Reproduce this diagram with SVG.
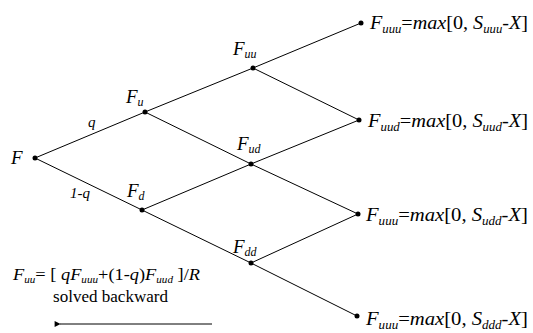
<svg xmlns="http://www.w3.org/2000/svg" width="533" height="333" viewBox="0 0 533 333">
<defs>
<marker id="ah" viewBox="0 0 10 10" refX="1" refY="5" markerWidth="8" markerHeight="6" orient="auto" markerUnits="userSpaceOnUse">
<path d="M10,0 L0,5 L10,10 z" fill="#000"/>
</marker>
</defs>
<style>
text{font-family:'Liberation Serif','Times New Roman',Tinos,'DejaVu Serif',serif;fill:#000}
.ln{stroke:#000;stroke-width:1;fill:none}
.dot{fill:#000}
.lbl{font-style:italic;font-size:19px}
.sub{font-size:12px}
.term{font-size:19px}
.it{font-style:italic}
.edge{font-style:italic;font-size:15px}
.note{font-size:16.5px}
</style>
<rect width="533" height="333" fill="#fff"/>
<g id="connectors">
<line class="ln" x1="35" y1="158" x2="145" y2="112"/>
<line class="ln" x1="35" y1="158" x2="142" y2="210"/>
<line class="ln" x1="145" y1="112" x2="253" y2="68"/>
<line class="ln" x1="145" y1="112" x2="251" y2="164"/>
<line class="ln" x1="142" y1="210" x2="251" y2="164"/>
<line class="ln" x1="142" y1="210" x2="251" y2="263"/>
<line class="ln" x1="253" y1="68" x2="361" y2="23"/>
<line class="ln" x1="253" y1="68" x2="359" y2="120"/>
<line class="ln" x1="251" y1="164" x2="359" y2="120"/>
<line class="ln" x1="251" y1="164" x2="358" y2="214"/>
<line class="ln" x1="251" y1="263" x2="358" y2="214"/>
<line class="ln" x1="251" y1="263" x2="357" y2="316"/>
<text class="edge" x="88" y="127">q</text>
<text class="edge" x="70" y="198">1-q</text>
</g>
<g id="node-F">
<circle class="dot" cx="35" cy="158" r="2.5"/>
<text class="lbl" x="11" y="164">F</text>
</g>
<g id="node-Fu">
<circle class="dot" cx="145" cy="112" r="2.5"/>
<text class="lbl" x="126" y="103">F<tspan class="sub" dy="3">u</tspan></text>
</g>
<g id="node-Fd">
<circle class="dot" cx="142" cy="210" r="2.5"/>
<text class="lbl" x="127" y="197">F<tspan class="sub" dy="3">d</tspan></text>
</g>
<g id="node-Fuu">
<circle class="dot" cx="253" cy="68" r="2.5"/>
<text class="lbl" x="233" y="55">F<tspan class="sub" dy="3">uu</tspan></text>
</g>
<g id="node-Fud">
<circle class="dot" cx="251" cy="164" r="2.5"/>
<text class="lbl" x="237" y="150">F<tspan class="sub" dy="3">ud</tspan></text>
</g>
<g id="node-Fdd">
<circle class="dot" cx="251" cy="263" r="2.5"/>
<text class="lbl" x="233" y="253">F<tspan class="sub" dy="3">dd</tspan></text>
</g>
<g id="node-Fuuu">
<circle class="dot" cx="361" cy="23" r="2.5"/>
<text class="term" x="370" y="29" textLength="158" lengthAdjust="spacingAndGlyphs"><tspan class="it">F</tspan><tspan class="it sub" dy="4">uuu</tspan><tspan dy="-4">=</tspan><tspan class="it">max</tspan>[0, <tspan class="it">S</tspan><tspan class="it sub" dy="4">uuu</tspan><tspan class="it" dy="-4">-X</tspan>]</text>
</g>
<g id="node-Fuud">
<circle class="dot" cx="359" cy="120" r="2.5"/>
<text class="term" x="368" y="127" textLength="160" lengthAdjust="spacingAndGlyphs"><tspan class="it">F</tspan><tspan class="it sub" dy="4">uud</tspan><tspan dy="-4">=</tspan><tspan class="it">max</tspan>[0, <tspan class="it">S</tspan><tspan class="it sub" dy="4">uud</tspan><tspan class="it" dy="-4">-X</tspan>]</text>
</g>
<g id="node-Fudd">
<circle class="dot" cx="358" cy="214" r="2.5"/>
<text class="term" x="366" y="221" textLength="162" lengthAdjust="spacingAndGlyphs"><tspan class="it">F</tspan><tspan class="it sub" dy="4">uuu</tspan><tspan dy="-4">=</tspan><tspan class="it">max</tspan>[0, <tspan class="it">S</tspan><tspan class="it sub" dy="4">udd</tspan><tspan class="it" dy="-4">-X</tspan>]</text>
</g>
<g id="node-Fddd">
<circle class="dot" cx="357" cy="316" r="2.5"/>
<text class="term" x="366" y="325" textLength="162" lengthAdjust="spacingAndGlyphs"><tspan class="it">F</tspan><tspan class="it sub" dy="4">uuu</tspan><tspan dy="-4">=</tspan><tspan class="it">max</tspan>[0, <tspan class="it">S</tspan><tspan class="it sub" dy="4">ddd</tspan><tspan class="it" dy="-4">-X</tspan>]</text>
</g>
<g id="note">
<text class="note" x="13" y="280" textLength="187" lengthAdjust="spacingAndGlyphs"><tspan class="it">F</tspan><tspan class="it" font-size="10" dy="3">uu</tspan><tspan dy="-3">= [ </tspan><tspan class="it">qF</tspan><tspan class="it" font-size="10" dy="3">uuu</tspan><tspan dy="-3">+(1-</tspan><tspan class="it">q</tspan>)<tspan class="it">F</tspan><tspan class="it" font-size="10" dy="3">uud</tspan><tspan dy="-3"> ]/</tspan><tspan class="it">R</tspan></text>
<text class="note" x="53" y="302" textLength="115" lengthAdjust="spacingAndGlyphs">solved backward</text>
<line class="ln" x1="212" y1="324" x2="60" y2="324" marker-end="url(#ah)"/>
</g>
</svg>
